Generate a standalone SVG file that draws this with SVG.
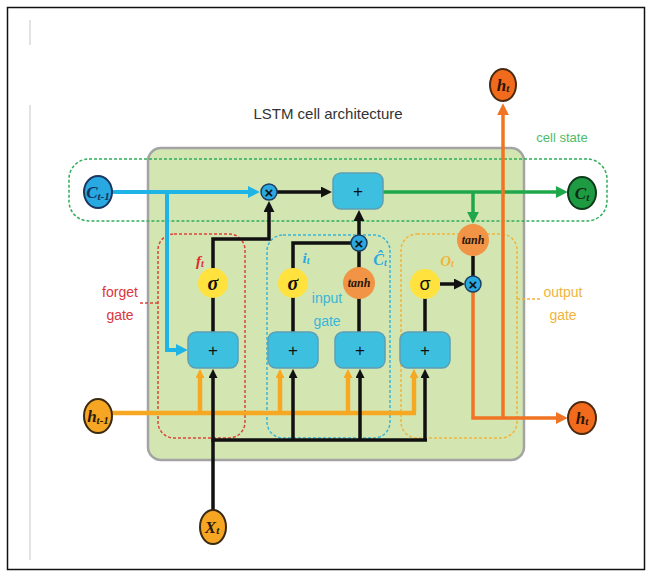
<svg xmlns="http://www.w3.org/2000/svg" width="652" height="576" viewBox="0 0 652 576">
<style>
.sans{font-family:"Liberation Sans",Arial,sans-serif}
.ser{font-family:"Liberation Serif","Times New Roman",serif;font-style:italic;font-weight:bold}
.box{fill:#3dbfe0;stroke:#5d9fb3;stroke-width:1.5}
.plus{font-family:"Liberation Sans",Arial,sans-serif;font-size:17px;fill:#111;text-anchor:middle}
.mul{fill:#2aa8e0;stroke:#1b3f63;stroke-width:1.5}
.x{font-family:"Liberation Sans",Arial,sans-serif;font-size:15px;font-weight:bold;fill:#111;text-anchor:middle}
.sig{fill:#ffe23d}
.th{fill:#f19445}
.ln{fill:none;stroke-linejoin:miter}
.k{stroke:#111;stroke-width:3.5}
.b{stroke:#1fb4e6;stroke-width:4}
.g{stroke:#1fa84a;stroke-width:3.5}
.o{stroke:#f07424;stroke-width:3.5}
.y{stroke:#f7a823;stroke-width:4.5}
.dash{fill:none;stroke-width:1.5;stroke-dasharray:3 2}
</style>
<defs>
<marker id="ak" viewBox="0 0 10 10" refX="1" refY="5" markerUnits="userSpaceOnUse" markerWidth="11" markerHeight="11" orient="auto"><path d="M0,0L10,5L0,10z" fill="#111"/></marker>
<marker id="aks" viewBox="0 0 10 10" refX="1" refY="5" markerUnits="userSpaceOnUse" markerWidth="9" markerHeight="9" orient="auto"><path d="M0,0L10,5L0,10z" fill="#111"/></marker>
<marker id="ab" viewBox="0 0 10 10" refX="1" refY="5" markerUnits="userSpaceOnUse" markerWidth="12" markerHeight="12" orient="auto"><path d="M0,0L10,5L0,10z" fill="#1fb4e6"/></marker>
<marker id="ag" viewBox="0 0 10 10" refX="1" refY="5" markerUnits="userSpaceOnUse" markerWidth="12" markerHeight="12" orient="auto"><path d="M0,0L10,5L0,10z" fill="#1fa84a"/></marker>
<marker id="ao" viewBox="0 0 10 10" refX="1" refY="5" markerUnits="userSpaceOnUse" markerWidth="12" markerHeight="12" orient="auto"><path d="M0,0L10,5L0,10z" fill="#f07424"/></marker>
<marker id="ay" viewBox="0 0 10 10" refX="1" refY="5" markerUnits="userSpaceOnUse" markerWidth="9" markerHeight="9" orient="auto"><path d="M0,0L10,5L0,10z" fill="#f7a823"/></marker>
</defs>
<rect x="0" y="0" width="652" height="576" fill="#fff"/>
<rect x="7.5" y="7.5" width="637" height="562" fill="none" stroke="#111" stroke-width="1.5"/>
<path d="M30,20V45M30,105V560" stroke="#e2e2e2" stroke-width="2"/>
<text class="sans" x="328" y="119" font-size="15" fill="#333" text-anchor="middle">LSTM cell architecture</text>
<text class="sans" x="562" y="142" font-size="13" fill="#4dbb6a" text-anchor="middle">cell state</text>

<rect id="panel" x="148" y="148" width="376" height="312" rx="13" fill="#d3e6b2" stroke="#a3a3a3" stroke-width="2.5"/>

<g id="regions">
<rect x="69" y="159" width="538" height="62" rx="20" class="dash" stroke="#2fae5a"/>
<rect x="158" y="234" width="87" height="204" rx="16" class="dash" stroke="#d9453a"/>
<rect x="267" y="235" width="123" height="203" rx="16" class="dash" stroke="#3ab5d8"/>
<rect x="401" y="234" width="116" height="204" rx="16" class="dash" stroke="#f0b43c"/>
<path d="M140,303H158" class="dash" stroke="#d9453a"/>
<path d="M517,299H541" class="dash" stroke="#f0b43c"/>
<text class="sans" x="120" y="297" font-size="14" fill="#d9363e" text-anchor="middle">forget</text>
<text class="sans" x="120" y="320" font-size="14" fill="#d9363e" text-anchor="middle">gate</text>
<text class="sans" x="327" y="303" font-size="14" fill="#3ab5d8" text-anchor="middle">input</text>
<text class="sans" x="327" y="326" font-size="14" fill="#3ab5d8" text-anchor="middle">gate</text>
<text class="sans" x="563" y="297" font-size="14" fill="#f0b43c" text-anchor="middle">output</text>
<text class="sans" x="563" y="320" font-size="14" fill="#f0b43c" text-anchor="middle">gate</text>
</g>

<g id="connectors">
<path class="ln b" d="M112,192H249" marker-end="url(#ab)"/>
<path class="ln b" d="M167,192V350H177" marker-end="url(#ab)"/>
<path class="ln k" d="M213,332V239H269V211" marker-end="url(#ak)"/>
<path class="ln k" d="M277,192H322" marker-end="url(#ak)"/>
<path class="ln k" d="M293,332V243H351"/>
<path class="ln k" d="M359,332V251"/>
<path class="ln k" d="M359,235V220" marker-end="url(#ak)"/>
<path class="ln g" d="M383,192H557" marker-end="url(#ag)"/>
<path class="ln g" d="M473,192V213" marker-end="url(#ag)"/>
<path class="ln k" d="M425,332V298"/>
<path class="ln k" d="M440,284H455" marker-end="url(#ak)"/>
<path class="ln k" d="M473,256V276"/>
<path class="ln o" d="M473,292V418H557" marker-end="url(#ao)"/>
<path class="ln o" d="M503,418V114" marker-end="url(#ao)"/>
<path class="ln y" d="M112,413H416"/>
<path class="ln y" d="M200,413V377" marker-end="url(#ay)"/>
<path class="ln y" d="M280,413V377" marker-end="url(#ay)"/>
<path class="ln y" d="M348,413V377" marker-end="url(#ay)"/>
<path class="ln y" d="M414,413V377" marker-end="url(#ay)"/>
<path class="ln k" d="M213,512V377" marker-end="url(#aks)"/>
<path class="ln k" d="M211.5,440H427"/>
<path class="ln k" d="M293,440V377" marker-end="url(#aks)"/>
<path class="ln k" d="M360,440V377" marker-end="url(#aks)"/>
<path class="ln k" d="M425,440V377" marker-end="url(#aks)"/>
</g>

<g id="c_prev"><ellipse cx="98" cy="192" rx="14" ry="16" fill="#28a9e1" stroke="#1b3660" stroke-width="2"/><text class="ser" x="98" y="198" font-size="17" fill="#15305a" text-anchor="middle">C<tspan font-size="11" dy="2">t-1</tspan></text></g>
<g id="c_t"><ellipse cx="582" cy="193" rx="14" ry="16" fill="#1e9a42" stroke="#0d3a1a" stroke-width="2"/><text class="ser" x="582" y="199" font-size="17" fill="#0d2a14" text-anchor="middle">C<tspan font-size="11" dy="2">t</tspan></text></g>
<g id="h_prev"><ellipse cx="98" cy="416" rx="14" ry="17" fill="#f6a623" stroke="#3a2a10" stroke-width="2"/><text class="ser" x="98" y="422" font-size="17" fill="#2a1a08" text-anchor="middle">h<tspan font-size="11" dy="2">t-1</tspan></text></g>
<g id="h_out"><ellipse cx="582" cy="418" rx="14" ry="16" fill="#f26b1d" stroke="#4a2a10" stroke-width="2"/><text class="ser" x="582" y="424" font-size="17" fill="#2a1408" text-anchor="middle">h<tspan font-size="11" dy="1">t</tspan></text></g>
<g id="h_top"><ellipse cx="503" cy="85" rx="13" ry="16" fill="#f26b1d" stroke="#4a2a10" stroke-width="2"/><text class="ser" x="503" y="91" font-size="17" fill="#2a1408" text-anchor="middle">h<tspan font-size="11" dy="1">t</tspan></text></g>
<g id="x_t"><ellipse cx="213" cy="527" rx="13" ry="17" fill="#f6a623" stroke="#3a2a10" stroke-width="2"/><text class="ser" x="212" y="533" font-size="17" fill="#2a1a08" text-anchor="middle">X<tspan font-size="11" dy="1">t</tspan></text></g>

<g id="mul_f"><circle cx="269" cy="192" r="8" class="mul"/><text class="x" x="269" y="197.5">×</text></g>
<g id="add_c"><rect x="333" y="173" width="50" height="36" rx="8" class="box"/><text class="plus" x="358" y="197">+</text></g>

<g id="forget">
<rect x="188" y="332" width="50" height="36" rx="8" class="box"/><text class="plus" x="213" y="356">+</text>
<circle cx="213" cy="283" r="15" class="sig"/><text class="ser" x="213" y="290" font-size="20" fill="#111" text-anchor="middle">σ</text>
<text class="ser" x="200" y="266" font-size="15" fill="#e0282e" text-anchor="middle">f<tspan font-size="10" dy="1">t</tspan></text>
</g>

<g id="input">
<rect x="268" y="332" width="50" height="36" rx="8" class="box"/><text class="plus" x="293" y="356">+</text>
<circle cx="293" cy="283" r="15" class="sig"/><text class="ser" x="293" y="290" font-size="20" fill="#111" text-anchor="middle">σ</text>
<text class="ser" x="306" y="263" font-size="15" fill="#2aa8e0" text-anchor="middle">i<tspan font-size="10" dy="1">t</tspan></text>
</g>

<g id="candidate">
<rect x="335" y="332" width="50" height="36" rx="8" class="box"/><text class="plus" x="360" y="356">+</text>
<circle cx="359" cy="283" r="16" class="th"/><text class="ser" x="359" y="287" font-size="12" fill="#2a1408" text-anchor="middle">tanh</text>
<circle cx="359" cy="243" r="8" class="mul"/><text class="x" x="359" y="248.5">×</text>
<text class="ser" x="380" y="265" font-size="16" fill="#2aa8e0" text-anchor="middle">Ĉ<tspan font-size="10" dy="1">t</tspan></text>
</g>

<g id="output">
<rect x="400" y="332" width="50" height="36" rx="8" class="box"/><text class="plus" x="425" y="356">+</text>
<circle cx="425" cy="284" r="15" class="sig"/><text class="sans" x="425" y="290" font-size="18" fill="#111" text-anchor="middle">σ</text>
<circle cx="473" cy="240" r="16" class="th"/><text class="ser" x="473" y="244" font-size="12" fill="#2a1408" text-anchor="middle">tanh</text>
<circle cx="473" cy="284" r="8" class="mul"/><text class="x" x="473" y="289.5">×</text>
<text class="ser" x="447" y="266" font-size="15" fill="#f0b43c" text-anchor="middle">O<tspan font-size="10" dy="1">t</tspan></text>
</g>
</svg>
